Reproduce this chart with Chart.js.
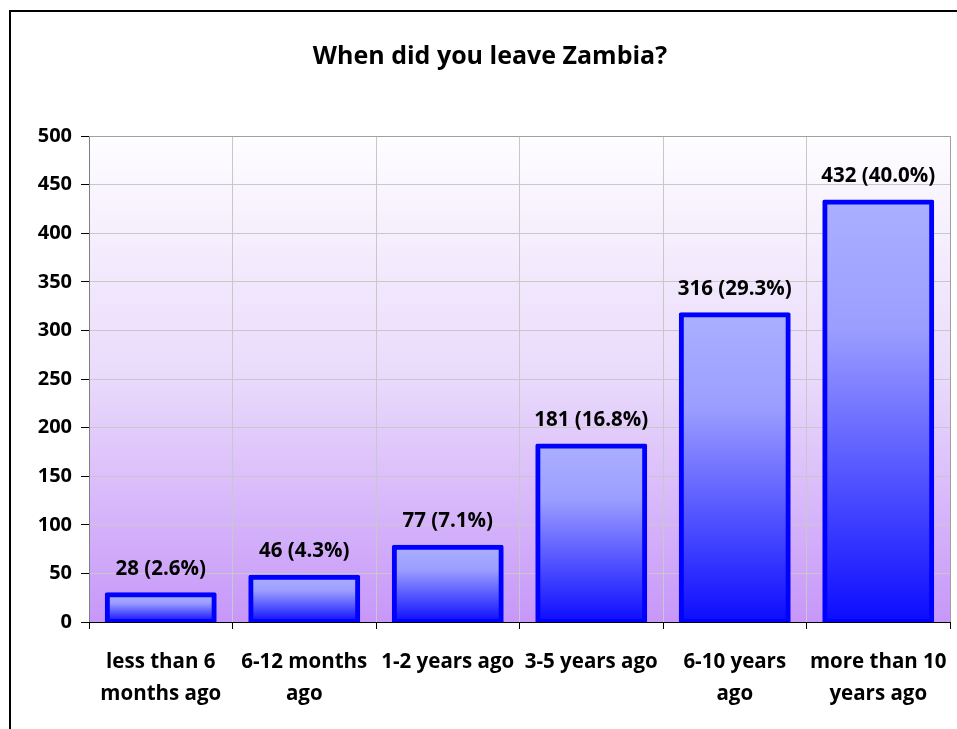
<!DOCTYPE html>
<html>
<head>
<meta charset="utf-8">
<script src="https://cdn.jsdelivr.net/npm/chart.js@4.4.1/dist/chart.umd.min.js"></script>
<style>
  html, body { margin: 0; padding: 0; background: #fff; overflow: hidden; }
  #wrap { width: 957px; height: 729px; }
</style>
</head>
<body>
<div id="wrap"><canvas id="chart" width="957" height="729"></canvas></div>
<script>
// Chart data
const categories = [
  ["less than 6", "months ago"],
  ["6-12 months", "ago"],
  "1-2 years ago",
  "3-5 years ago",
  ["6-10 years", "ago"],
  ["more than 10", "years ago"]
];
const counts = [28, 46, 77, 181, 316, 432];
const percents = ["2.6", "4.3", "7.1", "16.8", "29.3", "40.0"];
const yTicks = [0, 50, 100, 150, 200, 250, 300, 350, 400, 450, 500];

const FONT = "'Open Sans', 'DejaVu Sans', sans-serif";

// Outer frame + plot background gradient
const framePlugin = {
  id: 'frame',
  beforeDraw(chart) {
    const { ctx, chartArea: a } = chart;
    ctx.save();
    ctx.strokeStyle = '#000';
    ctx.lineWidth = 2;
    ctx.strokeRect(10, 11, 1200, 1200);

    const g = ctx.createLinearGradient(0, a.top, 0, a.bottom);
    g.addColorStop(0, '#fefdff');
    g.addColorStop(0.5, '#e9dafb');
    g.addColorStop(1, '#c797f9');
    ctx.fillStyle = g;
    ctx.fillRect(a.left, a.top, a.right - a.left, a.bottom - a.top);
    ctx.restore();
  },
  afterDraw(chart) {
    const { ctx, chartArea: a } = chart;
    ctx.save();
    ctx.strokeStyle = '#a0a0a0';
    ctx.lineWidth = 1;
    ctx.beginPath();
    ctx.moveTo(a.left, a.top + 0.5);
    ctx.lineTo(a.right + 0.5, a.top + 0.5);
    ctx.lineTo(a.right + 0.5, a.bottom);
    ctx.stroke();
    // x axis line on top of the bars
    ctx.strokeStyle = '#000';
    ctx.beginPath();
    ctx.moveTo(a.left, a.bottom + 0.5);
    ctx.lineTo(a.right + 0.5, a.bottom + 0.5);
    ctx.stroke();
    ctx.restore();
  }
};

// Value labels above bars
const labelPlugin = {
  id: 'barLabels',
  afterDatasetsDraw(chart) {
    const { ctx } = chart;
    const meta = chart.getDatasetMeta(0);
    ctx.save();
    ctx.font = `bold 20.5px ${FONT}`;
    ctx.fillStyle = '#000';
    ctx.textAlign = 'center';
    ctx.textBaseline = 'middle';
    meta.data.forEach((bar, i) => {
      ctx.fillText(`${counts[i]} (${percents[i]}%)`, bar.x, bar.y - 26);
    });
    ctx.restore();
  }
};

function barGradient(context) {
  const chart = context.chart;
  const { chartArea, scales } = chart;
  if (!chartArea || context.type !== 'data') return '#a8acff';
  const top = scales.y.getPixelForValue(context.raw);
  const bottom = scales.y.getPixelForValue(0);
  const g = chart.ctx.createLinearGradient(0, top, 0, bottom);
  g.addColorStop(0, '#abafff');
  g.addColorStop(0.3, '#9c9eff');
  g.addColorStop(1, '#0c0cff');
  return g;
}

new Chart(document.getElementById('chart'), {
  type: 'bar',
  data: {
    labels: categories,
    datasets: [{
      data: counts,
      backgroundColor: barGradient,
      borderColor: '#0000ff',
      borderWidth: 5,
      borderSkipped: false,
      borderRadius: 2,
      inflateAmount: 2.5,
      clip: 0,
      barPercentage: 0.745,
      categoryPercentage: 1
    }]
  },
  options: {
    responsive: false,
    animation: false,
    layout: { padding: { left: 30, right: 7, top: 0, bottom: 0 } },
    plugins: {
      legend: { display: false },
      tooltip: { enabled: false },
      title: {
        display: true,
        text: 'When did you leave Zambia?',
        color: '#000',
        font: { family: FONT, size: 25, weight: 'bold', lineHeight: 1.2 },
        padding: { top: 42, bottom: 64 }
      }
    },
    scales: {
      x: {
        grid: { color: '#c8c8c8', tickColor: '#000', tickLength: 7, offset: true },
        border: { color: '#000', width: 1 },
        ticks: {
          color: '#000',
          padding: 18,
          maxRotation: 0,
          autoSkip: false,
          font: { family: FONT, size: 20.5, weight: 'bold', lineHeight: 1.52 }
        },
        afterFit(scale) {
          scale.height = 107;
          scale.paddingLeft = 0;
          scale.paddingRight = 0;
        }
      },
      y: {
        min: 0,
        max: 500,
        afterBuildTicks(scale) { scale.ticks = yTicks.map(v => ({ value: v })); },
        grid: { color: '#c8c8c8', tickColor: '#000', tickLength: 8 },
        border: { color: '#808080', width: 1 },
        ticks: {
          color: '#000',
          padding: 9,
          font: { family: FONT, size: 20, weight: 'bold' }
        },
        afterFit(scale) {
          scale.width = 59;
          scale.paddingTop = 0;
          scale.paddingBottom = 0;
        }
      }
    }
  },
  plugins: [framePlugin, labelPlugin]
});
</script>
</body>
</html>
